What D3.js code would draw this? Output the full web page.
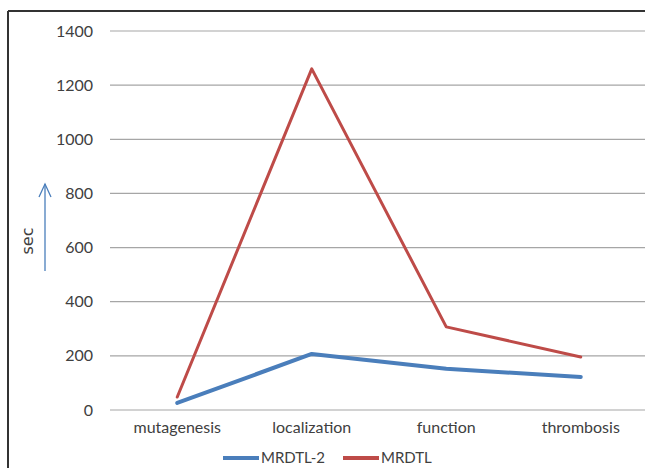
<!DOCTYPE html>
<html>
<head>
<meta charset="utf-8">
<script src="https://cdn.jsdelivr.net/npm/d3@7"></script>
<style>
  body { margin: 0; background: #fff; }
  svg { display: block; overflow: hidden; }
</style>
</head>
<body>
<svg id="chart"></svg>
<script>
const categories = ["mutagenesis", "localization", "function", "thrombosis"];
const mrdtl2 = [26, 207, 152, 122];
const mrdtl = [48, 1260, 307, 196];
const yTicks = [0, 200, 400, 600, 800, 1000, 1200, 1400];

const width = 645;
const height = 468;
const margin = { top: 31, right: -3, bottom: 58, left: 110 };

const svg = d3.select("#chart").attr("width", width).attr("height", height);

// frame (cropped screenshot: top and left edge only)
svg.append("line").attr("x1", 8).attr("x2", width).attr("y1", 11).attr("y2", 11)
  .attr("stroke", "#333").attr("stroke-width", 2);
svg.append("line").attr("x1", 8).attr("x2", 8).attr("y1", 11).attr("y2", height)
  .attr("stroke", "#333").attr("stroke-width", 2);

const x = d3.scaleBand()
  .domain(categories)
  .range([margin.left, width - margin.right]);

const y = d3.scaleLinear()
  .domain([0, 1400])
  .range([height - margin.bottom, margin.top]);

// gridlines
svg.append("g")
  .selectAll("line")
  .data(yTicks)
  .enter()
  .append("line")
  .attr("x1", margin.left)
  .attr("x2", width)
  .attr("y1", (d) => y(d))
  .attr("y2", (d) => y(d))
  .attr("stroke", "#a6a6a6")
  .attr("stroke-width", 1.2);

// y tick labels
svg.append("g")
  .selectAll("text")
  .data(yTicks)
  .enter()
  .append("text")
  .attr("x", 93)
  .attr("y", (d) => y(d))
  .attr("dy", "0.35em")
  .attr("text-anchor", "end")
  .attr("font-family", "Lato, sans-serif")
  .attr("font-size", "16px")
  .attr("fill", "#404040")
  .text((d) => d);

// x labels
svg.append("g")
  .selectAll("text")
  .data(categories)
  .enter()
  .append("text")
  .attr("x", (d) => x(d) + x.bandwidth() / 2)
  .attr("y", 433)
  .attr("text-anchor", "middle")
  .attr("font-family", "Lato, sans-serif")
  .attr("font-size", "16px")
  .attr("fill", "#404040")
  .text((d) => d);

// axis title with arrow
svg.append("text")
  .attr("transform", "translate(33,241) rotate(-90)")
  .attr("text-anchor", "middle")
  .attr("font-family", "DejaVu Sans, sans-serif")
  .attr("font-size", "16px")
  .attr("fill", "#404040")
  .text("sec");
svg.append("line").attr("x1", 45).attr("x2", 45).attr("y1", 271).attr("y2", 184)
  .attr("stroke", "#4a7ebb").attr("stroke-width", 1.3);
svg.append("path").attr("d", "M39,197 L45,184 L51,197")
  .attr("fill", "none").attr("stroke", "#4a7ebb").attr("stroke-width", 1.3);

const line = d3.line()
  .x((d, i) => x(categories[i]) + x.bandwidth() / 2)
  .y((d) => y(d));

const series = [
  { name: "MRDTL-2", values: mrdtl2, color: "#4a7ebb", w: 4 },
  { name: "MRDTL", values: mrdtl, color: "#be4b48", w: 3 },
];

series.forEach((s) => {
  svg.append("path")
    .datum(s.values)
    .attr("d", line)
    .attr("fill", "none")
    .attr("stroke", s.color)
    .attr("stroke-width", s.w)
    .attr("stroke-linejoin", "round")
    .attr("stroke-linecap", "round");
});

// legend
const legend = [
  { name: "MRDTL-2", color: "#4a7ebb", x: 223 },
  { name: "MRDTL", color: "#be4b48", x: 343 },
];
legend.forEach((l) => {
  svg.append("line").attr("x1", l.x).attr("x2", l.x + 36).attr("y1", 458).attr("y2", 458)
    .attr("stroke", l.color).attr("stroke-width", 4);
  svg.append("text")
    .attr("x", l.x + 38)
    .attr("y", 458)
    .attr("dy", "0.35em")
    .attr("font-family", "Lato, sans-serif")
    .attr("font-size", "15px")
    .attr("fill", "#404040")
    .text(l.name);
});
</script>
</body>
</html>
